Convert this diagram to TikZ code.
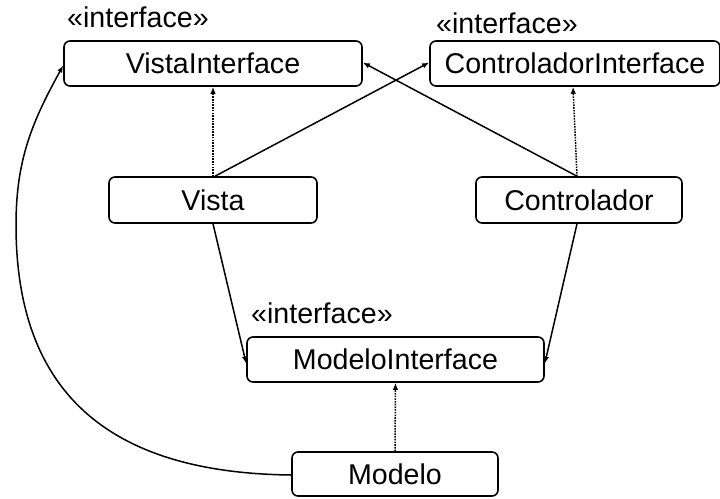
\documentclass[tikz,border=0pt]{standalone}
\usepackage{fontspec}
\setmainfont{Liberation Sans}
\usetikzlibrary{arrows.meta}
\begin{document}
\begin{tikzpicture}[x=1pt,y=-1pt,
  cls/.style={draw,line width=1.6pt,rounded corners=6pt,inner sep=0pt,font=\fontsize{28.6}{30}\selectfont},
  stereo/.style={anchor=base west,inner sep=0pt,font=\fontsize{28.6}{30}\selectfont},
  assoc/.style={line width=1.5pt,-{Latex[length=7pt,width=5.5pt]}},
  realize/.style={line width=1.5pt,dash pattern=on 1.6pt off 1.1pt,-{Latex[length=7pt,width=5.5pt]}}]
\useasboundingbox (0,0) rectangle (720,498);
\node[cls,minimum width=298pt,minimum height=45pt] (vistaI) at (213,63.5) {VistaInterface};
\node[cls,minimum width=290pt,minimum height=45pt] (ctrlI) at (575,63.5) {ControladorInterface};
\node[cls,minimum width=208pt,minimum height=46pt] (vista) at (213,200) {Vista};
\node[cls,minimum width=206pt,minimum height=46pt] (ctrl) at (579,200) {Controlador};
\node[cls,minimum width=297pt,minimum height=45pt] (modeloI) at (395.5,359.5) {ModeloInterface};
\node[cls,minimum width=206pt,minimum height=44pt] (modelo) at (395,474) {Modelo};
\node[stereo] (s1) at (67,27) {«interface»};
\node[stereo] (s2) at (436,33) {«interface»};
\node[stereo] (s3) at (251,323) {«interface»};
\coordinate (bend) at (16,225);
% realizations
\draw[realize] (vista.north) -- (vistaI.south);
\draw[realize] ([xshift=-2pt]ctrl.north) -- ([xshift=-2pt]ctrlI.south);
\draw[realize] (modelo.north) -- (modeloI.south);
% associations
\draw[assoc] ([xshift=2pt]vista.north) -- ([yshift=1pt]ctrlI.west);
\draw[assoc] ([xshift=-2pt]ctrl.north) -- ([yshift=1pt]vistaI.east);
\draw[assoc] (vista.south) -- ([yshift=-4pt]modeloI.west);
\draw[assoc] ([xshift=-2pt]ctrl.south) -- ([yshift=-4pt]modeloI.east);
\draw[assoc] ([yshift=-1pt]modelo.west) .. controls (117,473) and (16,400) .. (bend)
  .. controls (16,160) and (32,122) .. ([yshift=-2pt]vistaI.west);
\end{tikzpicture}
\end{document}
